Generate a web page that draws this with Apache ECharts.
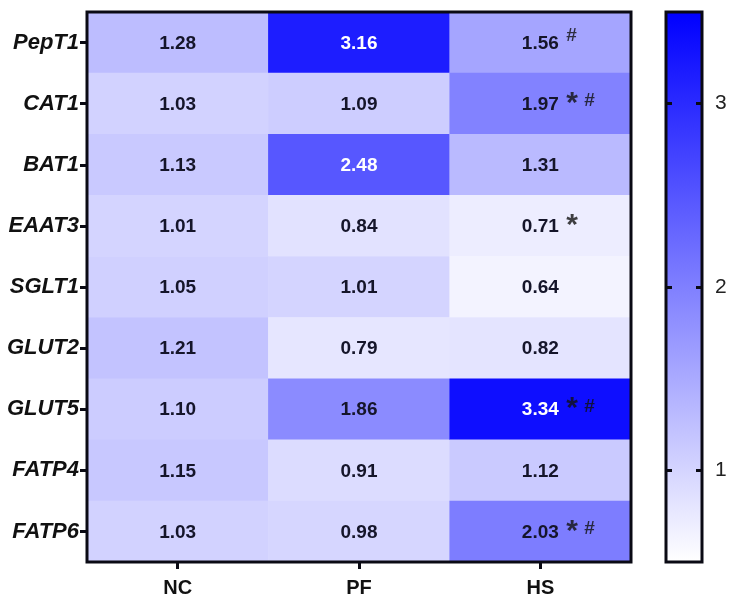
<!DOCTYPE html>
<html><head><meta charset="utf-8">
<style>html,body{margin:0;padding:0;background:#fff}#c{width:732px;height:603px}</style>
<script src="https://cdn.jsdelivr.net/npm/echarts@6/dist/echarts.min.js"></script>
</head><body><div id="c"></div>
<script>
const genes = ['PepT1','CAT1','BAT1','EAAT3','SGLT1','GLUT2','GLUT5','FATP4','FATP6'];
const groups = ['NC','PF','HS'];
const NC = [1.28,1.03,1.13,1.01,1.05,1.21,1.10,1.15,1.03];
const PF = [3.16,1.09,2.48,0.84,1.01,0.79,1.86,0.91,0.98];
const HS = [1.56,1.97,1.31,0.71,0.64,0.82,3.34,1.12,2.03];
const marksHS = ['#','*#','','*','','','*#','','*#'];
const scaleMin = 0.5, scaleMax = 3.5;
const scaleTicks = [1,2,3];
const font = '"Liberation Sans", Arial, sans-serif';

const cells = [];
[NC,PF,HS].forEach((col,x)=>col.forEach((v,y)=>cells.push({
  value:[x,y,v],
  label:{color: v>2.2 ? '#fff' : '#15152a'}
})));
const marks = marksHS.map((m,y)=>[2,y,m]).filter(d=>d[2]);

const chart = echarts.init(document.getElementById('c'),null,{renderer:'canvas'});
const noAxisParts = {axisLine:{show:false},axisTick:{show:false},axisLabel:{show:false},splitLine:{show:false}};
chart.setOption({
  backgroundColor:'#fff',
  animation:false,
  grid:[
    {left:87,right:101,top:12,bottom:41,show:true,z:5,backgroundColor:'transparent',borderColor:'#0a0a14',borderWidth:3},
    {left:666,width:36,top:12,bottom:41,show:true,z:5,backgroundColor:'transparent',borderColor:'#0a0a14',borderWidth:3}
  ],
  xAxis:[
    {type:'category',data:groups,gridIndex:0,position:'bottom',
     axisLine:{show:false},
     axisTick:{show:true,alignWithLabel:true,length:7,lineStyle:{color:'#0a0a14',width:3}},
     axisLabel:{color:'#111',fontFamily:font,fontWeight:'bold',fontSize:20,margin:16},
     splitLine:{show:false}},
    {type:'category',data:['scale'],gridIndex:1,...noAxisParts}
  ],
  yAxis:[
    {type:'category',data:genes,inverse:true,gridIndex:0,
     axisLine:{show:false},
     axisTick:{show:true,alignWithLabel:true,length:7,lineStyle:{color:'#0a0a14',width:3}},
     axisLabel:{color:'#111',fontFamily:font,fontWeight:'bold',fontStyle:'italic',fontSize:22,margin:8},
     splitLine:{show:false}},
    {type:'value',gridIndex:1,min:scaleMin,max:scaleMax,position:'right',z:6,
     axisLine:{show:false},
     axisTick:{show:true,inside:true,length:6,customValues:scaleTicks,lineStyle:{color:'#0a0a14',width:3}},
     axisLabel:{show:true,customValues:scaleTicks,color:'#222',fontFamily:font,fontSize:21,margin:13,padding:[3,0,0,0],formatter:v=>String(v)},
     splitLine:{show:false}},
    {type:'value',gridIndex:1,min:scaleMin,max:scaleMax,position:'left',z:6,
     axisLine:{show:false},
     axisTick:{show:true,inside:true,length:6,customValues:scaleTicks,lineStyle:{color:'#0a0a14',width:3}},
     axisLabel:{show:false},
     splitLine:{show:false}}
  ],
  visualMap:{show:false,type:'continuous',seriesIndex:0,dimension:2,min:scaleMin,max:scaleMax,
    inRange:{color:['#ffffff','#0000ff']}},
  series:[
    {type:'heatmap',xAxisIndex:0,yAxisIndex:0,data:cells,
     label:{show:true,fontFamily:font,fontWeight:'bold',fontSize:19,offset:[0,1],formatter:p=>p.value[2].toFixed(2)},
     emphasis:{disabled:true}},
    {type:'scatter',xAxisIndex:0,yAxisIndex:0,data:marks,symbolSize:1,z:4,
     itemStyle:{color:'transparent'},
     label:{show:true,position:'inside',align:'left',offset:[26,-4],
       formatter:p=>{
         const m=p.value[2];
         const parts=[];
         if(m.includes('*')) parts.push('{s|*}');
         if(m.includes('#')) parts.push(m.includes('*') ? '{k|#}' : '{h|#}');
         return parts.join(' ');
       },
       rich:{
         s:{fontFamily:font,fontWeight:'bold',fontSize:30,color:'#111',lineHeight:28,padding:[8,3,0,0]},
         h:{fontFamily:font,fontWeight:'bold',fontSize:19,color:'#111',lineHeight:22,padding:[0,0,6,0]},
         k:{fontFamily:font,fontWeight:'bold',fontSize:19,color:'#111',lineHeight:22,padding:[3,0,0,0]}
       }}},
    {type:'bar',xAxisIndex:1,yAxisIndex:1,data:[scaleMax],barWidth:'100%',silent:true,
     itemStyle:{color:{type:'linear',x:0,y:1,x2:0,y2:0,colorStops:[{offset:0,color:'#ffffff'},{offset:1,color:'#0000ff'}]}}}
  ]
});
</script></body></html>
